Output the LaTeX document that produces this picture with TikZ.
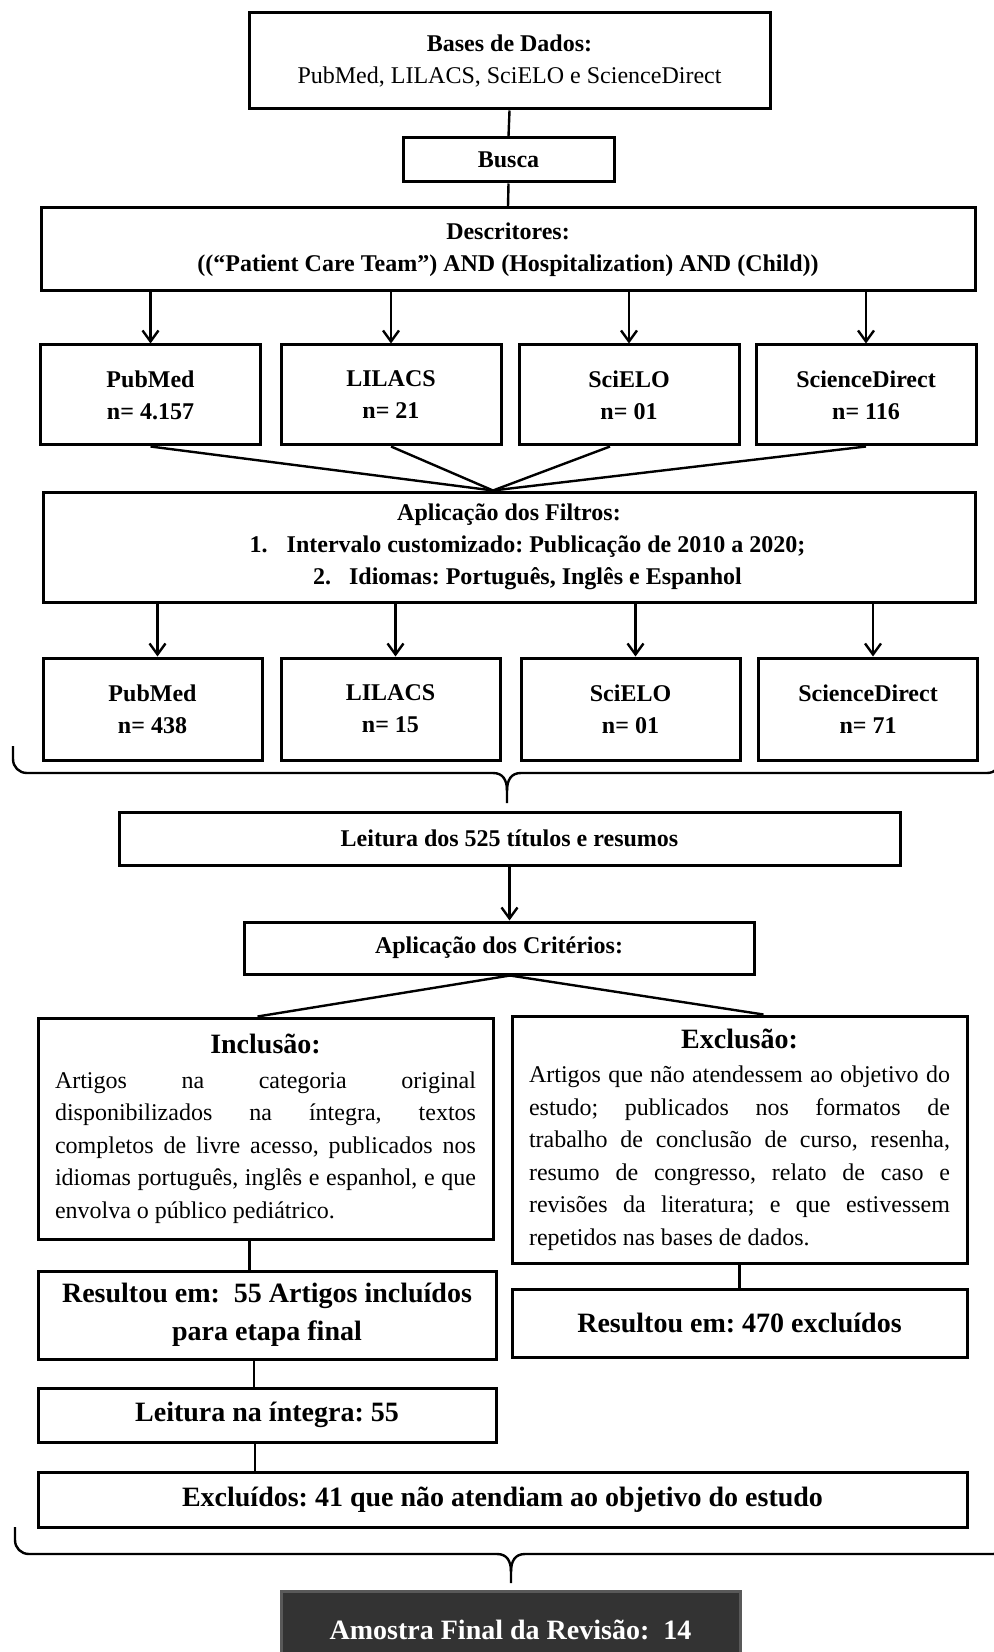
\documentclass[tikz,border=0pt]{standalone}
\usepackage{fontspec}
\setmainfont{Liberation Serif}
\usetikzlibrary{arrows.meta}
\frenchspacing

\begin{document}
\begin{tikzpicture}[x=0.5pt,y=-0.5pt,
		box/.style={draw,line width=1.5pt,align=center,inner sep=2pt,font=\fontsize{12}{16}\selectfont\bfseries},
		big/.style={box,font=\fontsize{14}{19}\selectfont\bfseries},
		txtbox/.style={draw,line width=1.5pt,inner sep=0pt,align=justify,text width=210.5pt,font=\fontsize{12}{16.25}\selectfont},
		link/.style={line width=1.2pt},
		arr/.style={line width=1.2pt,-{Straight Barb[length=5.5pt,width=8pt]}}]
		\useasboundingbox (0,0) rectangle (994,1652);
		
		\node[box,minimum width=260.5pt,minimum height=48pt] (bases) at (509.5,61) {Bases de Dados:\\\mdseries PubMed, LILACS, SciELO e ScienceDirect};
		\node[box,minimum width=105.5pt,minimum height=22pt] (busca) at (508.5,160) {Busca};
		\node[box,minimum width=467pt,minimum height=41.5pt] (desc) at (508,249.5) {Descritores:\\((“Patient Care Team”) AND (Hospitalization) AND (Child))};
		
		\foreach \nm/\x/\lab/\cnt in {pubA/150.5/PubMed/4.157,lilA/391/LILACS/21,sciA/629/SciELO/01,sdA/866/ScienceDirect/116}
			\node[box,minimum width=110pt,minimum height=50pt] (\nm) at (\x,395) {\lab\\n= \cnt};
		
		\node[box,minimum width=466pt,minimum height=55pt] (filt) at (509,547) {Aplicação dos Filtros:\\\hspace*{18.5pt}1.\hspace{9.5pt}Intervalo customizado: Publicação de 2010 a 2020;\\\hspace*{18.5pt}2.\hspace{9pt}Idiomas: Português, Inglês e Espanhol};
		
		\foreach \nm/\x/\lab/\cnt in {pubB/152.5/PubMed/438,lilB/390.5/LILACS/15,sciB/630.5/SciELO/01,sdB/868/ScienceDirect/71}
			\node[box,minimum width=109.5pt,minimum height=51pt] (\nm) at (\x,709) {\lab\\n= \cnt};
		
		\node[box,minimum width=390.5pt,minimum height=26.5pt] (leit) at (509.5,838.5) {Leitura dos 525 títulos e resumos};
		\node[box,minimum width=255pt,minimum height=26pt] (crit) at (499,948) {Aplicação dos Critérios:};
		
		\node[txtbox,minimum width=227.5pt,minimum height=110.5pt] (incl) at (265.5,1128.5) {{\centering\fontsize{14}{17}\selectfont\bfseries Inclusão:\par}\vspace{1.2pt}\hyphenpenalty=10000 Artigos na categoria original\linebreak disponibilizados na íntegra, textos\linebreak completos de livre acesso, publicados nos\linebreak idiomas português, inglês e espanhol, e que\linebreak envolva o público pediátrico.};
		\node[txtbox,minimum width=227.5pt,minimum height=123.5pt] (excl) at (739.5,1139.5) {{\centering\fontsize{14}{17}\selectfont\bfseries Exclusão:\par}\vspace{1.2pt}\hyphenpenalty=10000 Artigos que não atendessem ao objetivo do\linebreak estudo; publicados nos formatos de\linebreak trabalho de conclusão de curso, resenha,\linebreak resumo de congresso, relato de caso e\linebreak revisões da literatura; e que estivessem\linebreak repetidos nas bases de dados.};
		
		\node[big,minimum width=229pt,minimum height=44pt] (resA) at (267,1315) {Resultou em:\ \ 55 Artigos incluídos\\para etapa final};
		\node[big,minimum width=227.5pt,minimum height=34pt] (resB) at (739.5,1323) {Resultou em: 470 excluídos};
		\node[big,minimum width=229pt,minimum height=27pt] (integ) at (267,1415) {Leitura na íntegra: 55};
		\node[big,minimum width=464.5pt,minimum height=27.5pt] (ex41) at (502.5,1499.5) {Excluídos: 41 que não atendiam ao objetivo do estudo};
		\node[big,fill=black!80,draw=black!65,text=white,minimum width=229.5pt,minimum height=39pt] (final) at (510.5,1630) {Amostra Final da Revisão:\ \ 14};
		
		\draw[link] (bases.south) -- (busca.north);
		\draw[link] (busca.south) -- (desc.north);
		\foreach \nm in {pubA,lilA,sciA,sdA}
			\draw[arr] (desc.south -| \nm.north) -- (\nm.north);
		
		\coordinate (join) at ([xshift=-8pt]filt.north);
		\foreach \nm in {pubA,lilA,sdA}
			\draw[link] (\nm.south) -- (join);
		\draw[link] ([xshift=-9.5pt]sciA.south) -- (join);
		\foreach \nm in {pubB,lilB,sciB,sdB}
			\draw[arr] ([xshift=2.5pt]filt.south -| \nm.north) -- ([xshift=2.5pt]\nm.north);
		
		\draw[link] (13,746) -- (13,759) .. controls (13,767) and (19,773) .. (27,773) -- (493,773) .. controls (503,773) and (507,780) .. (507,791) -- (507,803);
		\draw[link] (507,791) .. controls (507,780) and (511,773) .. (521,773) -- (987,773) .. controls (995,773) and (1001,767) .. (1001,759) -- (1001,746);
		
		\draw[arr] (leit.south) -- (leit.south |- crit.north);
		\coordinate (split) at ([xshift=5.5pt]crit.south);
		\draw[link] (split) -- ([xshift=-4pt]incl.north);
		\draw[link] (split) -- ([xshift=12pt]excl.north);
		
		\draw[link] ([xshift=-8pt]incl.south) -- ([xshift=-8pt]incl.south |- resA.north);
		\draw[link] (excl.south) -- (excl.south |- resB.north);
		\draw[link] ([xshift=-6.5pt]resA.south) -- ([xshift=-6.5pt]resA.south |- integ.north);
		\draw[link] ([xshift=-6pt]integ.south) -- ([xshift=-6pt]integ.south |- ex41.north);
		
		\draw[link] (15,1527) -- (15,1540) .. controls (15,1548) and (21,1554) .. (29,1554) -- (497,1554) .. controls (507,1554) and (511,1561) .. (511,1572) -- (511,1583);
		\draw[link] (511,1572) .. controls (511,1561) and (515,1554) .. (525,1554) -- (993,1554) .. controls (1001,1554) and (1007,1548) .. (1007,1540) -- (1007,1527);
	\end{tikzpicture}
\end{document}
